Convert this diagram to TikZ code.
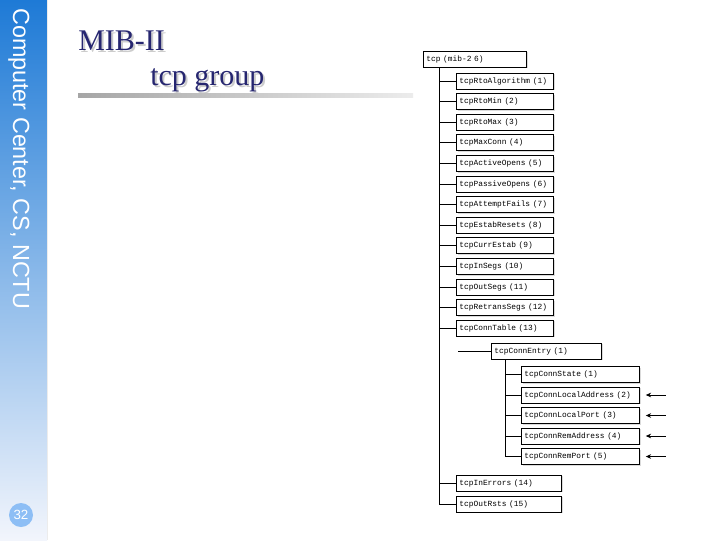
\documentclass[tikz,border=0pt]{standalone}
\usepackage{fontspec}
\setmainfont{Liberation Serif}
\newfontfamily\sidefont{Liberation Sans}
\newfontfamily\mono{Liberation Mono}
\usetikzlibrary{calc,shadows,arrows.meta}
\definecolor{navy}{RGB}{38,38,112}
\definecolor{sidetop}{RGB}{30,122,214}
\definecolor{sidemid}{RGB}{140,170,228}
\definecolor{sidebot}{RGB}{242,245,252}
\definecolor{badge}{RGB}{141,190,245}
\tikzset{
  box/.style={draw, fill=white, line width=0.6pt, inner xsep=2.25pt, inner ysep=0pt,
    minimum height=12pt, text width=#1, align=left, anchor=west,
    font=\mono\fontsize{5.9}{6.5}\selectfont,
    drop shadow={shadow xshift=0.9pt, shadow yshift=-0.9pt, fill=gray!55}},
  link/.style={line width=0.6pt},
  pointer/.style={line width=0.6pt, -{Stealth[length=4pt,width=3.5pt]}},
  titletext/.style={anchor=base west, inner sep=0pt, font=\fontsize{22.5}{24}\selectfont, text=navy},
  titleshadow/.style={anchor=base west, inner sep=0pt, font=\fontsize{22.5}{24}\selectfont, text=gray!40}
}
\begin{document}
\begin{tikzpicture}[x=0.75pt,y=-0.75pt]
\useasboundingbox (0,0) rectangle (720,540);
\fill[white] (0,0) rectangle (720,540);
% sidebar
\shade[top color=sidetop, middle color=sidemid, bottom color=sidebot] (0,0) rectangle (47,540);
\draw[gray!15, line width=0.6pt] (47.5,0) -- (47.5,540);
\node[anchor=base west, rotate=-90, inner sep=0pt, text=white, font=\sidefont\fontsize{17.5}{20}\selectfont] (side) at (13,8) {Computer Center, CS, NCTU};
\fill[badge] (21,515) circle (12);
\node[text=white, font=\sidefont\fontsize{10}{12}\selectfont, inner sep=0pt] (pnum) at (21,515) {32};
% title
\node[titleshadow] (t1s) at (80,52) {MIB-II};
\node[titletext] (t1) at (78,50) {MIB-II};
\node[titleshadow] (t2s) at (152,87) {tcp group};
\node[titletext] (t2) at (150,85) {tcp group};
\shade[left color=gray!70, right color=gray!15] (78,93.5) rectangle (413,97);
% tree
\node[box=72.75pt] (tcp) at (423,59) {tcp (mib-2 6)};
\node[box=68.25pt] (a1) at (456,81) {tcpRtoAlgorithm (1)};
\node[box=68.25pt] (a2) at (456,101.6) {tcpRtoMin (2)};
\node[box=68.25pt] (a3) at (456,122.2) {tcpRtoMax (3)};
\node[box=68.25pt] (a4) at (456,142.8) {tcpMaxConn (4)};
\node[box=68.25pt] (a5) at (456,163.4) {tcpActiveOpens (5)};
\node[box=68.25pt] (a6) at (456,184) {tcpPassiveOpens (6)};
\node[box=68.25pt] (a7) at (456,204.6) {tcpAttemptFails (7)};
\node[box=68.25pt] (a8) at (456,225.2) {tcpEstabResets (8)};
\node[box=68.25pt] (a9) at (456,245.8) {tcpCurrEstab (9)};
\node[box=68.25pt] (a10) at (456,266.4) {tcpInSegs (10)};
\node[box=68.25pt] (a11) at (456,287) {tcpOutSegs (11)};
\node[box=68.25pt] (a12) at (456,307.6) {tcpRetransSegs (12)};
\node[box=68.25pt] (a13) at (456,328.2) {tcpConnTable (13)};
\node[box=78pt] (entry) at (491,351) {tcpConnEntry (1)};
\node[box=84pt] (e1) at (521,374.5) {tcpConnState (1)};
\node[box=84pt] (e2) at (521,395) {tcpConnLocalAddress (2)};
\node[box=84pt] (e3) at (521,415.5) {tcpConnLocalPort (3)};
\node[box=84pt] (e4) at (521,436) {tcpConnRemAddress (4)};
\node[box=84pt] (e5) at (521,456.5) {tcpConnRemPort (5)};
\node[box=74.25pt] (a14) at (456,483) {tcpInErrors (14)};
\node[box=74.25pt] (a15) at (456,504) {tcpOutRsts (15)};
% trunk
\coordinate (tk) at ($(tcp.south west)+(16,0)$);
\draw[link] (tk) |- (a15.west);
\foreach \n in {a1,a2,a3,a4,a5,a6,a7,a8,a9,a10,a11,a12,a13,a14}{
  \draw[link] (\n.west -| tk) -- (\n.west);
}
% entry
\coordinate (ein) at ($(entry.west)+(-33,0)$);
\draw[link] (ein) -- (entry.west);
\coordinate (ek) at ($(entry.south west)+(14,0)$);
\draw[link] (ek) |- (e5.west);
\foreach \n in {e1,e2,e3,e4}{
  \draw[link] (\n.west -| ek) -- (\n.west);
}
% pointers
\foreach \n in {e2,e3,e4,e5}{
  \coordinate (\n s) at ($(\n.east)+(26,0)$);
  \coordinate (\n t) at ($(\n.east)+(6,0)$);
  \draw[pointer] (\n s) -- (\n t);
}
\end{tikzpicture}
\end{document}
